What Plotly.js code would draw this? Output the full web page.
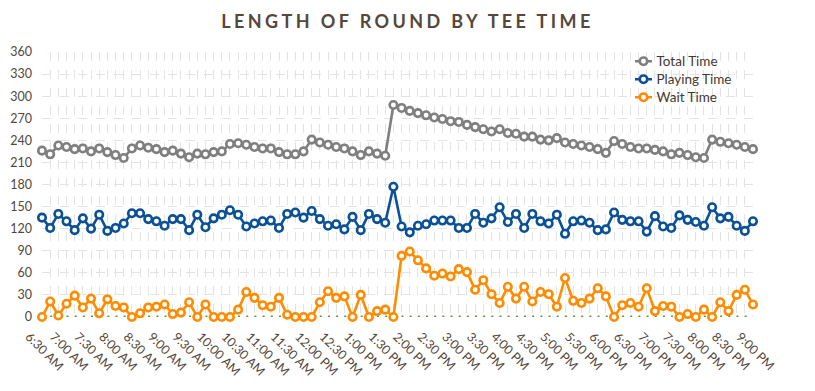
<!DOCTYPE html>
<html>
<head>
<meta charset="utf-8">
<script src="https://cdn.plot.ly/plotly-3.0.1.min.js"></script>
<style>
  html, body { margin: 0; padding: 0; background: #ffffff; }
  #chart { width: 815px; height: 391px; }
  .gtitle { letter-spacing: 3.4px; }
</style>
</head>
<body>
<div id="chart"></div>
<script>
// Tee times (every 10 minutes)
const times = [
  "6:30 AM","6:40 AM","6:50 AM",
  "7:00 AM","7:10 AM","7:20 AM","7:30 AM","7:40 AM","7:50 AM",
  "8:00 AM","8:10 AM","8:20 AM","8:30 AM","8:40 AM","8:50 AM",
  "9:00 AM","9:10 AM","9:20 AM","9:30 AM","9:40 AM","9:50 AM",
  "10:00 AM","10:10 AM","10:20 AM","10:30 AM","10:40 AM","10:50 AM",
  "11:00 AM","11:10 AM","11:20 AM","11:30 AM","11:40 AM","11:50 AM",
  "12:00 PM","12:10 PM","12:20 PM","12:30 PM","12:40 PM","12:50 PM",
  "1:00 PM","1:10 PM","1:20 PM","1:30 PM","1:40 PM","1:50 PM",
  "2:00 PM","2:10 PM","2:20 PM","2:30 PM","2:40 PM","2:50 PM",
  "3:00 PM","3:10 PM","3:20 PM","3:30 PM","3:40 PM","3:50 PM",
  "4:00 PM","4:10 PM","4:20 PM","4:30 PM","4:40 PM","4:50 PM",
  "5:00 PM","5:10 PM","5:20 PM","5:30 PM","5:40 PM","5:50 PM",
  "6:00 PM","6:10 PM","6:20 PM","6:30 PM","6:40 PM","6:50 PM",
  "7:00 PM","7:10 PM","7:20 PM","7:30 PM","7:40 PM","7:50 PM",
  "8:00 PM","8:10 PM","8:20 PM","8:30 PM","8:40 PM","8:50 PM",
  "9:00 PM"
];

// Labelled ticks (every 30 minutes)
const tickLabels = [
  "6:30 AM","7:00 AM","7:30 AM","8:00 AM","8:30 AM","9:00 AM","9:30 AM",
  "10:00 AM","10:30 AM","11:00 AM","11:30 AM","12:00 PM","12:30 PM",
  "1:00 PM","1:30 PM","2:00 PM","2:30 PM","3:00 PM","3:30 PM","4:00 PM",
  "4:30 PM","5:00 PM","5:30 PM","6:00 PM","6:30 PM","7:00 PM","7:30 PM",
  "8:00 PM","8:30 PM","9:00 PM"
];

const yTicks = [0, 30, 60, 90, 120, 150, 180, 210, 240, 270, 300, 330, 360];

const totalTime = [
  226, 221, 233, 231, 228, 229, 225, 229, 224, 220, 216, 229, 233, 230, 228, 224, 226, 222,
  217, 222, 221, 224, 225, 235, 236, 234, 231, 229, 229, 224, 221, 221, 225, 241, 237, 234,
  231, 229, 225, 220, 225, 222, 219, 288, 284, 280, 277, 274, 271, 269, 266, 265, 261,
  258, 255, 252, 255, 250, 249, 245, 245, 241, 240, 243, 237, 235, 233, 231, 228, 223, 239,
  235, 231, 229, 229, 227, 225, 221, 223, 220, 217, 216, 241, 238, 236, 234, 231, 228
];

const playingTime = [
  135, 121, 140, 130, 118, 134, 120, 139, 117, 121, 127, 141, 141, 133, 130, 124, 133, 133,
  118, 139, 122, 134, 139, 145, 139, 123, 127, 130, 131, 121, 140, 142, 135, 144, 133, 124,
  126, 119, 136, 118, 140, 133, 128, 177, 123, 115, 124, 126, 131, 131, 131, 121, 121,
  140, 128, 134, 149, 129, 140, 121, 140, 130, 127, 139, 113, 130, 131, 128, 118, 119, 142,
  132, 130, 130, 116, 137, 123, 121, 138, 132, 129, 124, 149, 134, 136, 124, 117, 130
];

const waitTime = [
  0, 21, 2, 18, 29, 13, 25, 5, 24, 15, 13, 0, 5, 13, 14, 17, 4, 6,
  20, 0, 17, 0, 0, 0, 10, 34, 26, 16, 14, 26, 3, 0, 0, 0, 20, 35,
  26, 28, 0, 30, 0, 8, 10, 0, 83, 89, 77, 66, 56, 59, 55, 65, 61,
  37, 50, 31, 19, 41, 25, 41, 21, 34, 31, 14, 53, 22, 19, 25, 39, 28, 0,
  16, 19, 14, 39, 8, 15, 14, 0, 4, 0, 10, 0, 20, 8, 30, 37, 17
];

const textColor = '#54463a';

function series(name, values, color) {
  return {
    type: 'scatter',
    mode: 'lines+markers',
    name: name,
    x: times,
    y: values,
    cliponaxis: false,
    line: { color: color, width: 2.6 },
    marker: { symbol: 'circle', size: 7.5, color: '#ffffff', line: { color: color, width: 2.6 } }
  };
}

const data = [
  series('Total Time', totalTime, '#7f7f7f'),
  series('Playing Time', playingTime, '#0b5195'),
  series('Wait Time', waitTime, '#ff8c00')
];

const layout = {
  width: 815,
  height: 391,
  paper_bgcolor: '#ffffff',
  plot_bgcolor: '#ffffff',
  margin: { l: 42, r: 62, t: 52, b: 74 },
  font: { family: 'Lato, "Open Sans", sans-serif', color: textColor, size: 12 },
  title: {
    text: 'LENGTH OF ROUND BY TEE TIME',
    font: { family: 'Lato, "Open Sans", sans-serif', size: 18, color: '#56473b', weight: 700 },
    x: 0.5, xref: 'container', xanchor: 'center',
    y: 1 - 22 / 391, yref: 'container', yanchor: 'middle'
  },
  showlegend: true,
  legend: {
    x: 0.808, xanchor: 'left', y: 1.023, yanchor: 'top',
    bgcolor: 'rgba(255,255,255,0)',
    font: { family: 'Lato, "Open Sans", sans-serif', size: 13.5, color: '#43382f' },
    tracegroupgap: 0
  },
  xaxis: {
    type: 'category',
    range: [0, times.length - 1],
    tickmode: 'array',
    tickvals: times,
    ticktext: times.map(t => tickLabels.includes(t) ? t : ''),
    tickangle: 45,
    ticklabelshift: -13,
    ticklabelstandoff: 9,
    showgrid: true,
    gridcolor: '#e3e3e3',
    griddash: 'dash',
    gridwidth: 1,
    zeroline: false,
    showline: false,
    ticks: '',
    tickfont: { size: 12.5, color: textColor }
  },
  yaxis: {
    range: [0, 360],
    tickmode: 'array',
    tickvals: yTicks,
    ticktext: yTicks.map(String),
    showgrid: true,
    gridcolor: '#e3e3e3',
    griddash: 'dash',
    gridwidth: 1,
    zeroline: false,
    showline: false,
    ticks: '',
    ticklabelstandoff: 9,
    tickfont: { size: 12.5, color: textColor }
  },
  shapes: [{
    type: 'line', layer: 'below',
    xref: 'x', yref: 'y',
    x0: 0, x1: times.length - 1, y0: 0, y1: 0,
    line: { color: '#5c9a2e', width: 3, dash: '2px,6.17px' }
  }]
};

Plotly.newPlot('chart', data, layout, { displayModeBar: false, staticPlot: true }).then(gd => {
  // compact legend symbols and tighter row spacing, as in the reference
  const items = gd.querySelectorAll('.legend .traces');
  let y0 = null;
  items.forEach((g, i) => {
    const m = /translate\(([-\d.]+),\s*([-\d.]+)\)/.exec(g.getAttribute('transform') || '');
    if (m) {
      if (y0 === null) y0 = parseFloat(m[2]);
      g.setAttribute('transform', 'translate(' + m[1] + ',' + (y0 + 18 * i) + ')');
    }
    g.querySelectorAll('.legendlines path').forEach(p => p.setAttribute('d', 'M18.5,0h17'));
    g.querySelectorAll('.legendpoints path').forEach(p => p.setAttribute('transform', 'translate(27,0)'));
  });
});
</script>
</body>
</html>
